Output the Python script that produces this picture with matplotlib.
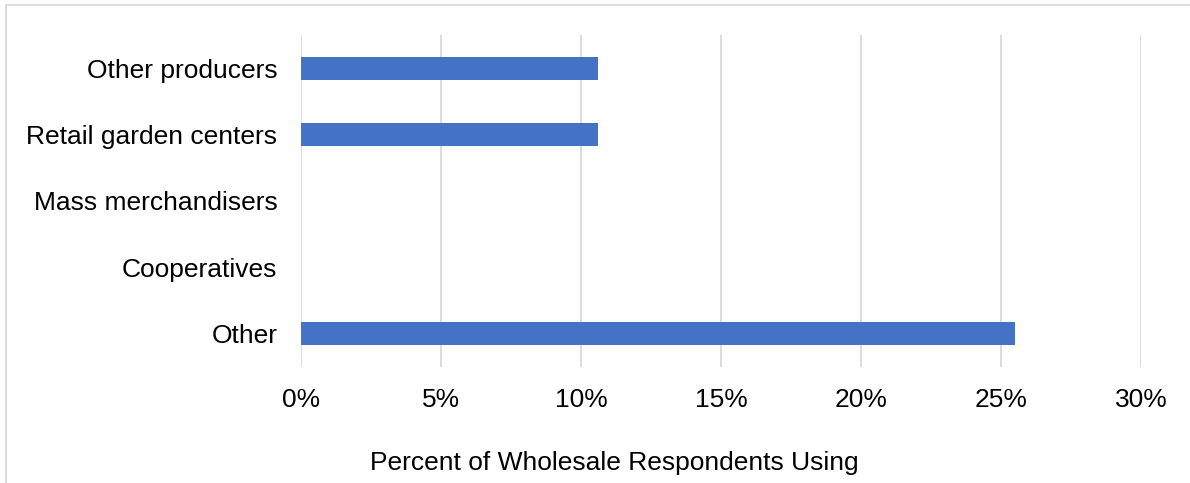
import matplotlib
matplotlib.use("Agg")
import matplotlib.pyplot as plt
from matplotlib.patches import Rectangle
from matplotlib.ticker import FuncFormatter

plt.rcParams["font.family"] = ["Liberation Sans", "DejaVu Sans"]

categories = ["Other producers", "Retail garden centers", "Mass merchandisers",
              "Cooperatives", "Other"]
percent_using = [10.6, 10.6, 0.0, 0.0, 25.5]
x_ticks = [0, 5, 10, 15, 20, 25, 30]

W, H = 1190, 483
FS = 19
fig = plt.figure(figsize=(W / 100, H / 100), dpi=100)
ax = fig.add_axes([301 / W, 1 - 367 / H, (1141 - 301) / W, (367 - 35) / H])

ypos = list(range(len(categories)))
ax.barh(ypos, percent_using, height=0.35, color="#4472C4", zorder=3)
ax.set_yticks(ypos)
ax.set_yticklabels(categories, fontsize=FS)
ax.set_ylim(len(categories) - 0.5, -0.5)

ax.set_xlim(0, 30)
ax.set_xticks(x_ticks)
ax.xaxis.set_major_formatter(FuncFormatter(lambda v, _: f"{v:.0f}%"))
ax.tick_params(axis="x", labelsize=FS, length=0, pad=15)
ax.tick_params(axis="y", length=0, pad=17)
ax.grid(axis="x", color="#d9d9d9", lw=1.3, zorder=0)
for s in ax.spines.values():
    s.set_visible(False)

fig.text(614 / W, 1 - 463 / H, "Percent of Wholesale Respondents Using",
         ha="center", va="center", fontsize=FS)

# chart frame (continues past the image edge)
fig.patches.append(Rectangle((6 / W, -0.1), 1.2, 1 - 5 / H + 0.1, transform=fig.transFigure,
                             fill=False, edgecolor="#d9d9d9", lw=1.3))

fig.savefig("out.png", dpi=100)
